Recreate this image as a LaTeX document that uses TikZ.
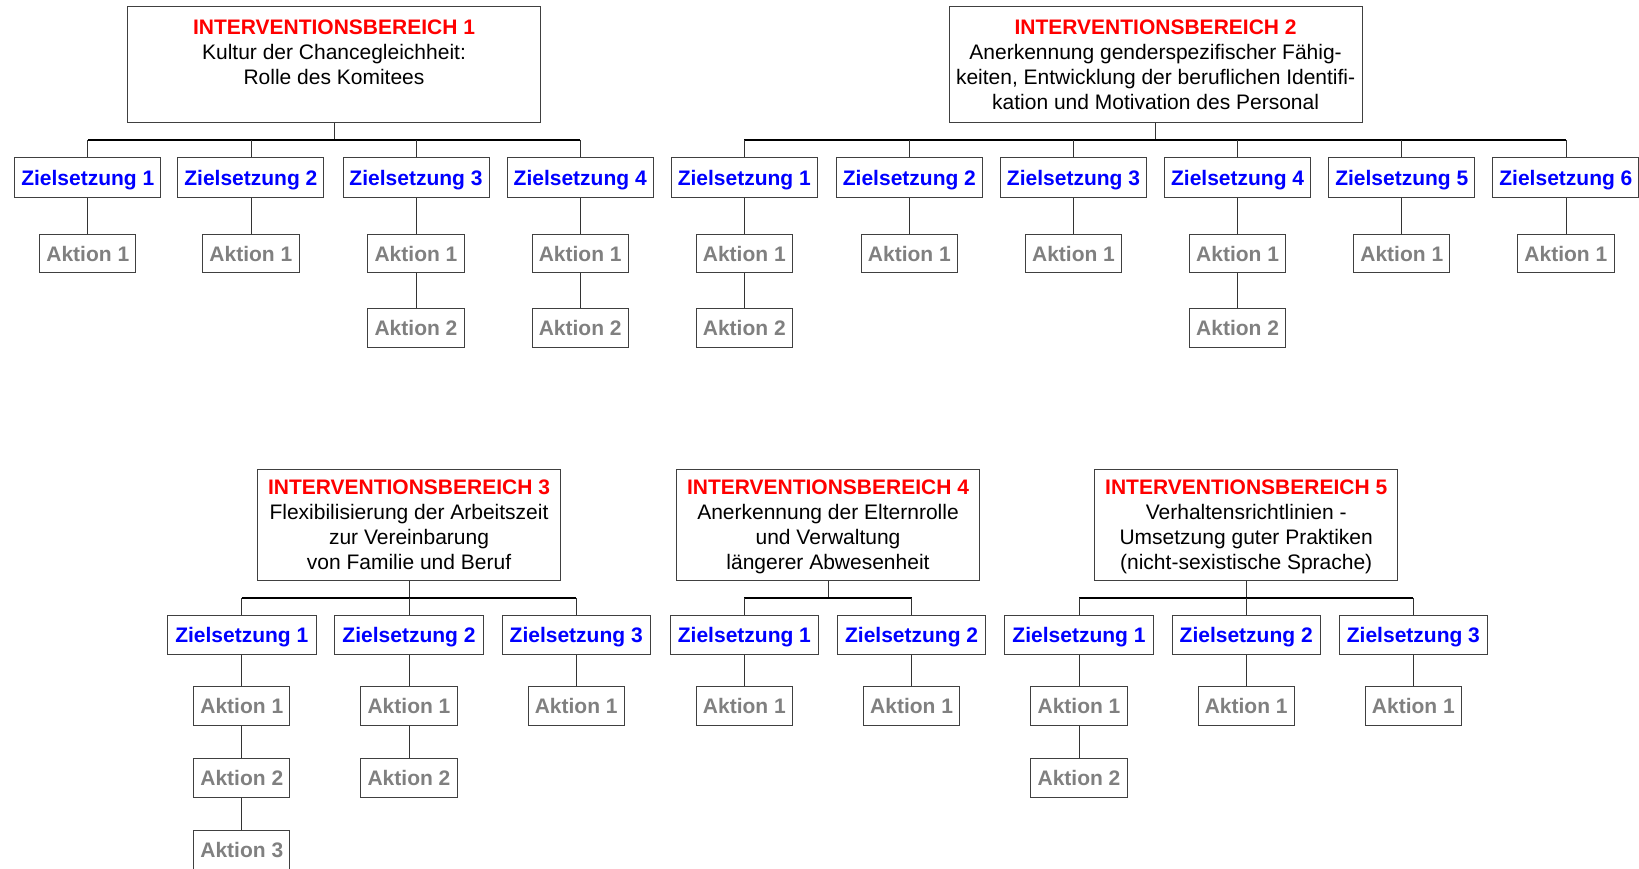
\documentclass[tikz,border=0pt]{standalone}
\usepackage{fontspec}
\setmainfont{Liberation Sans}

\definecolor{ibred}{RGB}{255,0,0}
\definecolor{zblue}{RGB}{0,0,255}
\definecolor{agray}{RGB}{128,128,128}

\tikzset{
  bereich/.style={draw=black!75, line width=1pt, minimum width=413pt,
    minimum height=116pt, inner sep=0pt, align=center,
    font=\fontsize{21}{25}\selectfont},
  ziel/.style={draw=black!75, line width=1pt, minimum width=146pt,
    minimum height=39.7pt, inner sep=0pt, text=zblue, text depth=0pt,
    font=\fontsize{21}{25}\selectfont\bfseries},
  aktion/.style={draw=black!75, line width=1pt, minimum width=96.2pt,
    minimum height=38.7pt, inner sep=0pt, text=agray,
    font=\fontsize{21}{25}\selectfont\bfseries},
  bus/.style={line width=1.6pt, black},
  link/.style={line width=0.8pt, black!80},
}
\newcommand{\ibtitle}[1]{\textcolor{ibred}{\bfseries INTERVENTIONSBEREICH #1}}
% letzte Zeile ohne Unterlänge
\newcommand{\nodepth}[1]{\raisebox{0pt}[\height][0pt]{#1}}

\begin{document}
\begin{tikzpicture}[x=1pt, y=-1pt]
\useasboundingbox (0,0) rectangle (1639,868);

% ── Interventionsbereich 1 ─────────────────────────────────────
\node[bereich] (ib1) at (334,64.3)
    {\ibtitle{1}\\ Kultur der Chancegleichheit:\\ Rolle des Komitees\\ \mbox{}};
\coordinate (b1) at (334,140.1);

\node[ziel] (z11) at (87.8, 177.7) {Zielsetzung 1};
\node[ziel] (z12) at (250.9,177.7) {Zielsetzung 2};
\node[ziel] (z13) at (416.0,177.7) {Zielsetzung 3};
\node[ziel] (z14) at (580.2,177.7) {Zielsetzung 4};

\node[aktion] (a111) at (87.8, 253.5) {Aktion 1};
\node[aktion] (a121) at (250.9,253.5) {Aktion 1};
\node[aktion] (a131) at (416.0,253.5) {Aktion 1};
\node[aktion] (a132) at (416.0,328.2) {Aktion 2};
\node[aktion] (a141) at (580.2,253.5) {Aktion 1};
\node[aktion] (a142) at (580.2,328.2) {Aktion 2};

\draw[link] (ib1.south) -- (b1);
\draw[bus]  (z11 |- b1) -- (z14 |- b1);
\draw[link] (z11 |- b1) -- (z11);
\draw[link] (z12 |- b1) -- (z12);
\draw[link] (z13 |- b1) -- (z13);
\draw[link] (z14 |- b1) -- (z14);
\draw[link] (z11) -- (a111);
\draw[link] (z12) -- (a121);
\draw[link] (z13) -- (a131);
\draw[link] (a131) -- (a132);
\draw[link] (z14) -- (a141);
\draw[link] (a141) -- (a142);

% ── Interventionsbereich 2 ─────────────────────────────────────
\node[bereich] (ib2) at (1155.6,64.3)
    {\ibtitle{2}\\ Anerkennung genderspezifischer Fähig-\\
     keiten, Entwicklung der beruflichen Identifi-\\
     kation und Motivation des Personal};
\coordinate (b2) at (1155.6,140.1);

\node[ziel] (z21) at (744.3, 177.7) {Zielsetzung 1};
\node[ziel] (z22) at (909.4, 177.7) {Zielsetzung 2};
\node[ziel] (z23) at (1073.5,177.7) {Zielsetzung 3};
\node[ziel] (z24) at (1237.6,177.7) {Zielsetzung 4};
\node[ziel] (z25) at (1401.8,177.7) {Zielsetzung 5};
\node[ziel] (z26) at (1565.9,177.7) {Zielsetzung 6};

\node[aktion] (a211) at (744.3, 253.5) {Aktion 1};
\node[aktion] (a212) at (744.3, 328.2) {Aktion 2};
\node[aktion] (a221) at (909.4, 253.5) {Aktion 1};
\node[aktion] (a231) at (1073.5,253.5) {Aktion 1};
\node[aktion] (a241) at (1237.6,253.5) {Aktion 1};
\node[aktion] (a242) at (1237.6,328.2) {Aktion 2};
\node[aktion] (a251) at (1401.8,253.5) {Aktion 1};
\node[aktion] (a261) at (1565.9,253.5) {Aktion 1};

\draw[link] (ib2.south) -- (b2);
\draw[bus]  (z21 |- b2) -- (z26 |- b2);
\draw[link] (z21 |- b2) -- (z21);
\draw[link] (z22 |- b2) -- (z22);
\draw[link] (z23 |- b2) -- (z23);
\draw[link] (z24 |- b2) -- (z24);
\draw[link] (z25 |- b2) -- (z25);
\draw[link] (z26 |- b2) -- (z26);
\draw[link] (z21) -- (a211);
\draw[link] (a211) -- (a212);
\draw[link] (z22) -- (a221);
\draw[link] (z23) -- (a231);
\draw[link] (z24) -- (a241);
\draw[link] (a241) -- (a242);
\draw[link] (z25) -- (a251);
\draw[link] (z26) -- (a261);

% ── Interventionsbereich 3 ─────────────────────────────────────
\node[bereich, minimum width=303pt, minimum height=110.8pt] (ib3) at (409,524.7)
    {\ibtitle{3}\\ Flexibilisierung der Arbeitszeit\\ zur Vereinbarung\\
     von Familie und Beruf};
\coordinate (b3) at (409,597.9);

\node[ziel, minimum width=148.4pt] (z31) at (241.8,635.0) {Zielsetzung 1};
\node[ziel, minimum width=148.4pt] (z32) at (409.0,635.0) {Zielsetzung 2};
\node[ziel, minimum width=148.4pt] (z33) at (576.2,635.0) {Zielsetzung 3};

\node[aktion] (a311) at (241.8,706.1) {Aktion 1};
\node[aktion] (a312) at (241.8,778.2) {Aktion 2};
\node[aktion] (a313) at (241.8,850.2) {Aktion 3};
\node[aktion] (a321) at (409.0,706.1) {Aktion 1};
\node[aktion] (a322) at (409.0,778.2) {Aktion 2};
\node[aktion] (a331) at (576.2,706.1) {Aktion 1};

\draw[link] (ib3.south) -- (b3);
\draw[bus]  (z31 |- b3) -- (z33 |- b3);
\draw[link] (z31 |- b3) -- (z31);
\draw[link] (z32 |- b3) -- (z32);
\draw[link] (z33 |- b3) -- (z33);
\draw[link] (z31) -- (a311);
\draw[link] (a311) -- (a312);
\draw[link] (a312) -- (a313);
\draw[link] (z32) -- (a321);
\draw[link] (a321) -- (a322);
\draw[link] (z33) -- (a331);

% ── Interventionsbereich 4 ─────────────────────────────────────
\node[bereich, minimum width=303pt, minimum height=110.8pt] (ib4) at (828,524.7)
    {\ibtitle{4}\\ Anerkennung der Elternrolle\\ und Verwaltung\\
     \nodepth{längerer Abwesenheit}};
\coordinate (b4) at (828,597.9);

\node[ziel, minimum width=148.4pt] (z41) at (744.4,635.0) {Zielsetzung 1};
\node[ziel, minimum width=148.4pt] (z42) at (911.6,635.0) {Zielsetzung 2};

\node[aktion] (a411) at (744.4,706.1) {Aktion 1};
\node[aktion] (a421) at (911.6,706.1) {Aktion 1};

\draw[link] (ib4.south) -- (b4);
\draw[bus]  (z41 |- b4) -- (z42 |- b4);
\draw[link] (z41 |- b4) -- (z41);
\draw[link] (z42 |- b4) -- (z42);
\draw[link] (z41) -- (a411);
\draw[link] (z42) -- (a421);

% ── Interventionsbereich 5 ─────────────────────────────────────
\node[bereich, minimum width=303pt, minimum height=110.8pt] (ib5) at (1246.2,524.7)
    {\ibtitle{5}\\ Verhaltensrichtlinien -\\ Umsetzung guter Praktiken\\
     \nodepth{(nicht-sexistische Sprache)}};
\coordinate (b5) at (1246.2,597.9);

\node[ziel, minimum width=148.4pt] (z51) at (1079.0,635.0) {Zielsetzung 1};
\node[ziel, minimum width=148.4pt] (z52) at (1246.2,635.0) {Zielsetzung 2};
\node[ziel, minimum width=148.4pt] (z53) at (1413.4,635.0) {Zielsetzung 3};

\node[aktion] (a511) at (1079.0,706.1) {Aktion 1};
\node[aktion] (a512) at (1079.0,778.2) {Aktion 2};
\node[aktion] (a521) at (1246.2,706.1) {Aktion 1};
\node[aktion] (a531) at (1413.4,706.1) {Aktion 1};

\draw[link] (ib5.south) -- (b5);
\draw[bus]  (z51 |- b5) -- (z53 |- b5);
\draw[link] (z51 |- b5) -- (z51);
\draw[link] (z52 |- b5) -- (z52);
\draw[link] (z53 |- b5) -- (z53);
\draw[link] (z51) -- (a511);
\draw[link] (a511) -- (a512);
\draw[link] (z52) -- (a521);
\draw[link] (z53) -- (a531);

\end{tikzpicture}
\end{document}
